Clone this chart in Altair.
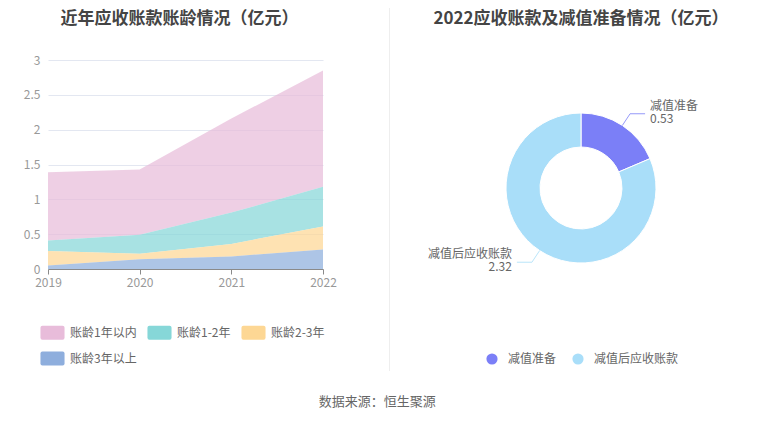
import altair as alt
import pandas as pd

# ---- data ----
years = ["2019", "2020", "2021", "2022"]
cats = ["账龄1年以内", "账龄1-2年", "账龄2-3年", "账龄3年以上"]
v_lt1 = [0.98, 0.94, 1.35, 1.67]
v_1_2 = [0.15, 0.27, 0.45, 0.57]
v_2_3 = [0.21, 0.08, 0.18, 0.33]
v_gt3 = [0.05, 0.14, 0.18, 0.28]
area_colors = ["#e8bcda", "#86d7d8", "#fdd794", "#8eaedd"]

pie_names = ["减值准备", "减值后应收账款"]
pie_values = [0.53, 2.32]
pie_colors = ["#7b7ff7", "#a9def9"]

FONT = "Noto Sans CJK SC"

rows = []
series = [v_lt1, v_1_2, v_2_3, v_gt3]
for ci, (c, vals) in enumerate(zip(cats, series)):
    for y, v in zip(years, vals):
        rows.append({"year": y, "cat": c, "value": v, "rank": 3 - ci})
df = pd.DataFrame(rows)

pie_df = pd.DataFrame({"name": pie_names, "value": pie_values, "idx": list(range(len(pie_names)))})

rect_path = ("M-0.84,-0.58 H0.84 Q1,-0.58 1,-0.42 V0.42 Q1,0.58 0.84,0.58 "
             "H-0.84 Q-1,0.58 -1,0.42 V-0.42 Q-1,-0.58 -0.84,-0.58 Z")

area = alt.Chart(df).mark_area(fillOpacity=0.72, strokeWidth=0).encode(
    x=alt.X("year:O", scale=alt.Scale(type="point", padding=0),
            axis=alt.Axis(title=None, labelAngle=0, domainColor="#8a8a8a", tickColor="#8a8a8a",
                          tickSize=5, labelColor="#999999", labelFontSize=12, labelPadding=3,
                          labelFont=FONT, grid=False)),
    y=alt.Y("value:Q", stack="zero", scale=alt.Scale(domain=[0, 3], nice=False),
            axis=alt.Axis(title=None, values=[0, 0.5, 1, 1.5, 2, 2.5, 3], format="~g",
                          domain=False, ticks=False, labelColor="#999999", labelFontSize=12,
                          labelPadding=8, labelFont=FONT, gridColor="#e3e7f1")),
    color=alt.Color("cat:N", scale=alt.Scale(domain=cats, range=area_colors),
                    legend=alt.Legend(title=None, orient="none", legendX=-8, legendY=260,
                                      direction="horizontal", columns=3, symbolType=rect_path,
                                      symbolSize=580, symbolOpacity=1, symbolStrokeWidth=0,
                                      labelFontSize=12, labelColor="#666666", labelFont=FONT,
                                      labelOffset=5, columnPadding=10, rowPadding=6, padding=0)),
    order=alt.Order("rank:Q", sort="ascending"),
)

left = area.properties(
    width=275, height=209,
    title=alt.TitleParams("近年应收账款账龄情况（亿元）", fontSize=17, fontWeight="bold",
                          color="#444444", font=FONT, anchor="middle", offset=26, dx=-6))

sep = alt.Chart(pd.DataFrame({"a": [0]})).mark_rule(color="#eeeeee", strokeWidth=1).encode(
    x=alt.value(66.5), y=alt.value(-52), y2=alt.value(311)).properties(width=108, height=209)

W, H = 300, 256
base = alt.Chart(pie_df).transform_joinaggregate(
    total="sum(value)"
).transform_window(
    cum="sum(value)", sort=[alt.SortField("idx")]
).transform_calculate(
    mid="(datum.cum - datum.value/2) / datum.total * 2 * PI",
    sx="sin(datum.mid)", cy="cos(datum.mid)",
    side="sin(datum.mid) >= 0 ? 1 : -1",
)

xsc = alt.Scale(domain=[-W / 2, W / 2])
ysc = alt.Scale(domain=[-H / 2, H / 2])
cscale = alt.Scale(domain=pie_names, range=pie_colors)

arc = base.mark_arc(innerRadius=41, outerRadius=75, stroke="white", strokeWidth=1).encode(
    theta=alt.Theta("value:Q", stack=True),
    color=alt.Color("name:N", scale=cscale,
                    legend=alt.Legend(title=None, orient="none", legendX=55, legendY=293,
                                      direction="horizontal", symbolType="circle", symbolSize=125,
                                      symbolStrokeWidth=0, labelFontSize=12, labelColor="#666666",
                                      labelFont=FONT, labelOffset=10, columnPadding=15, padding=0)),
    order=alt.Order("idx:Q"),
)

lead1 = base.transform_calculate(
    x1="75*datum.sx", y1="75*datum.cy", x2="89*datum.sx", y2="89*datum.cy"
).mark_rule(strokeWidth=1, opacity=0.8).encode(
    x=alt.X("x1:Q", scale=xsc, axis=None), y=alt.Y("y1:Q", scale=ysc, axis=None),
    x2="x2:Q", y2="y2:Q",
    color=alt.Color("name:N", scale=cscale, legend=None))

lead2 = base.transform_calculate(
    x1="89*datum.sx", y1="89*datum.cy", x2="89*datum.sx + datum.side*15"
).mark_rule(strokeWidth=1, opacity=0.8).encode(
    x=alt.X("x1:Q", scale=xsc, axis=None), y=alt.Y("y1:Q", scale=ysc, axis=None),
    x2="x2:Q",
    color=alt.Color("name:N", scale=cscale, legend=None))

def label_layer(sign, align):
    b = base.transform_filter(f"datum.side == {sign}").transform_calculate(
        tx="89*datum.sx + datum.side*20", ty="89*datum.cy")
    name = b.mark_text(align=align, baseline="bottom", dy=-1, fontSize=12, color="#666666",
                       font=FONT).encode(
        x=alt.X("tx:Q", scale=xsc, axis=None), y=alt.Y("ty:Q", scale=ysc, axis=None),
        text="name:N")
    val = b.mark_text(align=align, baseline="top", dy=0, fontSize=12, color="#666666",
                      font=FONT).encode(
        x=alt.X("tx:Q", scale=xsc, axis=None), y=alt.Y("ty:Q", scale=ysc, axis=None),
        text=alt.Text("value:Q", format=".2f"))
    return [name, val]

right = alt.layer(arc, lead1, lead2, *label_layer(1, "left"), *label_layer(-1, "right")).properties(
    width=W, height=H,
    title=alt.TitleParams("2022应收账款及减值准备情况（亿元）", fontSize=17, fontWeight="bold",
                          color="#444444", font=FONT, anchor="middle", offset=32))

chart = alt.hconcat(left, sep, right, spacing=0, bounds="flush").resolve_scale(
    color="independent").resolve_legend(color="independent").properties(
    title=alt.TitleParams("数据来源：恒生聚源", orient="bottom", anchor="middle", fontSize=13,
                          fontWeight="normal", color="#666666", font=FONT, offset=24),
    padding={"left": 15, "top": -1, "right": 5, "bottom": 5},
).configure_view(stroke=None).configure_concat(spacing=0)

chart.save("out.html", embed_options={"renderer": "svg", "actions": False})
